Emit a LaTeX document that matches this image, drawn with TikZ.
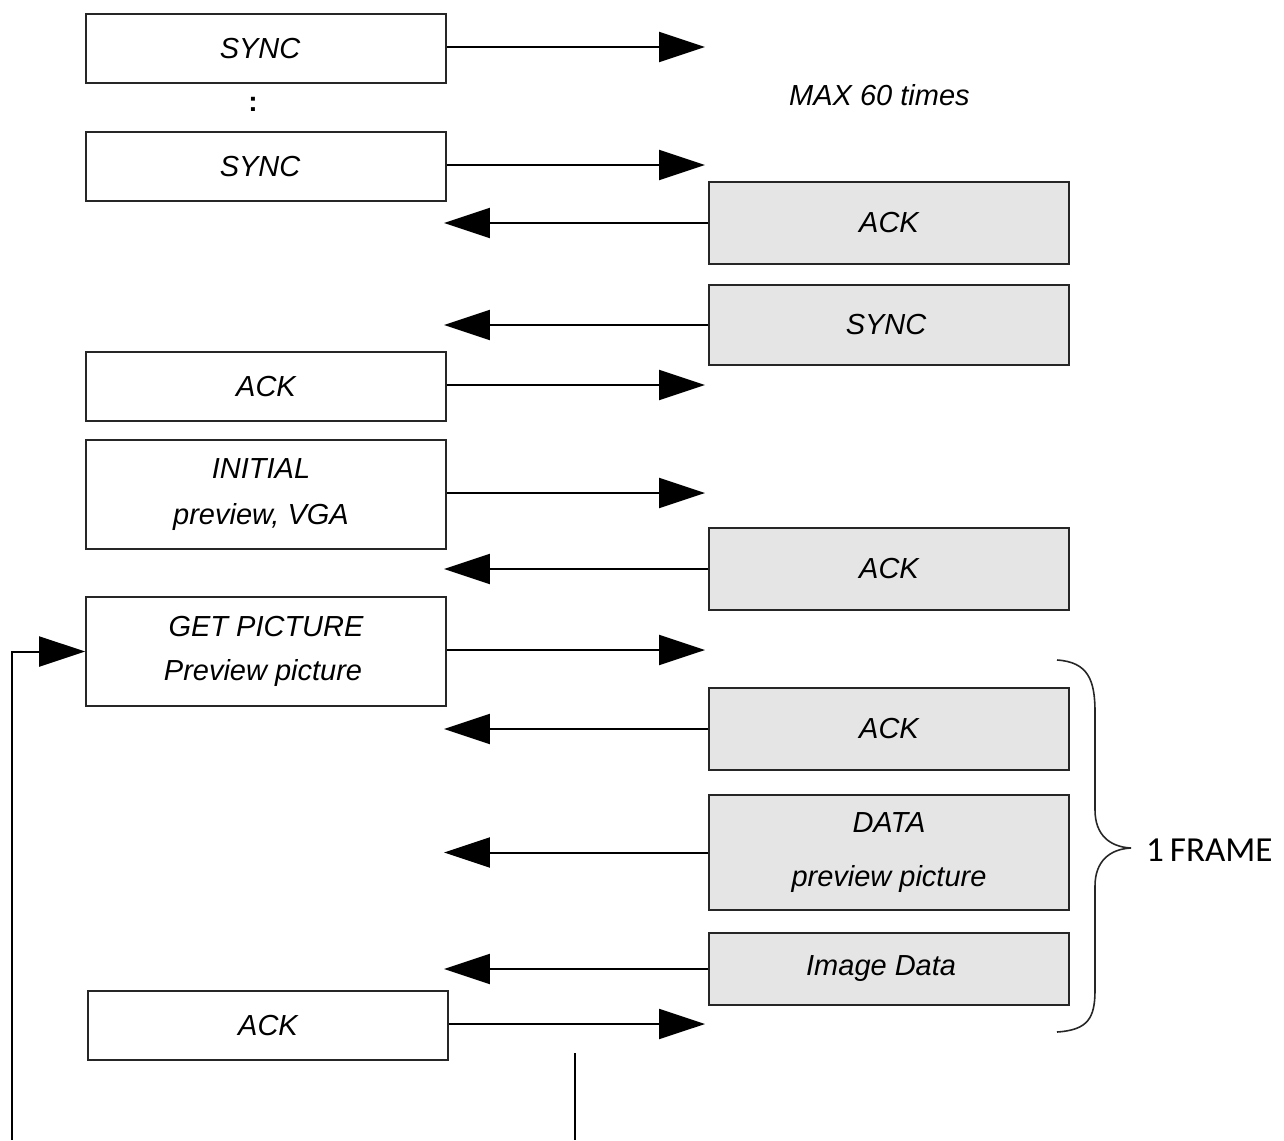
\documentclass[tikz,border=0pt]{standalone}
\usepackage{fontspec}
\setmainfont{Liberation Sans}
\newfontfamily\bracefont{Carlito}
\usetikzlibrary{arrows.meta}

\tikzset{
  msgbox/.style={draw=black!85, line width=1pt, minimum width=7.2cm, inner sep=0pt,
                 font=\fontsize{16.5}{22}\selectfont\itshape, align=center},
  hostbox/.style={msgbox, fill=white},
  devbox/.style={msgbox, fill=black!10},
  msg/.style={line width=1.15pt, -{Triangle[length=0.92cm, width=0.6cm]}},
  plain/.style={line width=1.15pt},
}

\begin{document}
\begin{tikzpicture}[x=0.02cm, y=-0.02cm]
  \useasboundingbox (0,0) rectangle (1284,1140);

  % host side (left column)
  \node[hostbox, minimum height=1.38cm] (s1) at (266,48.5) {SYNC\hspace*{6.8pt}};
  \node[font=\bfseries\fontsize{16}{16}\selectfont] (dots) at (253,104) {:};
  \node[hostbox, minimum height=1.38cm] (s2) at (266,166.5) {SYNC\hspace*{6.8pt}};
  \node[hostbox, minimum height=1.38cm] (a1) at (266,386.5) {ACK};
  \node[hostbox, minimum height=2.18cm] (init) at (266,494.5)
    {INITIAL\hspace*{5.7pt}\\[4pt] preview, VGA\hspace*{5.7pt}};
  \node[hostbox, minimum height=2.18cm] (get) at (266,651.5)
    {GET PICTURE\\[3pt] Preview picture\hspace*{3.4pt}};
  \node[hostbox, minimum height=1.38cm] (a2) at (268,1025.5) {ACK};

  % device side (right column)
  \node[devbox, minimum height=1.64cm] (r1) at (889,223) {ACK};
  \node[devbox, minimum height=1.60cm] (r2) at (889,325) {SYNC\hspace*{3.4pt}};
  \node[devbox, minimum height=1.64cm] (r3) at (889,569) {ACK};
  \node[devbox, minimum height=1.64cm] (r4) at (889,729) {ACK};
  \node[devbox, minimum height=2.30cm] (r5) at (889,852.5)
    {DATA\\[9pt] preview picture};
  \node[devbox, minimum height=1.44cm] (r6) at (889,969) {Image Data\hspace*{9pt}};

  \node[font=\fontsize{16.5}{20}\selectfont\itshape, anchor=west] (max) at (783,95) {MAX 60 times};

  % arrow tip columns
  \coordinate (tipR) at (705,0);
  \coordinate (tipL) at (444,0);

  % host -> device
  \foreach \n in {s1,s2,a1,init,get,a2}
    \draw[msg] ([yshift=0.85pt]\n.east) -- ([yshift=0.85pt]\n.east -| tipR);
  % device -> host
  \foreach \n in {r1,r2,r3,r4,r5,r6}
    \draw[msg] (\n.west) -- (\n.west -| tipL);

  % loop back to GET PICTURE
  \coordinate (loop) at (12,1140);
  \draw[msg] (loop) |- (get.west);

  % continuation line
  \coordinate (c1) at (575,1053);
  \coordinate (c2) at (575,1140);
  \draw[plain] (c1) -- (c2);

  % frame brace
  \draw[line width=0.9pt, black!85]
    (1057,660) .. controls (1088,662) and (1095,680) .. (1095,712)
    -- (1095,810) .. controls (1095,835) and (1110,847) .. (1131,848)
    .. controls (1110,849) and (1095,861) .. (1095,886)
    -- (1095,990) .. controls (1095,1018) and (1088,1030) .. (1057,1032);
  \node[font=\bracefont\fontsize{20}{22}\selectfont, anchor=west] (frame) at (1140,850) {1\,FRAME};
\end{tikzpicture}
\end{document}
